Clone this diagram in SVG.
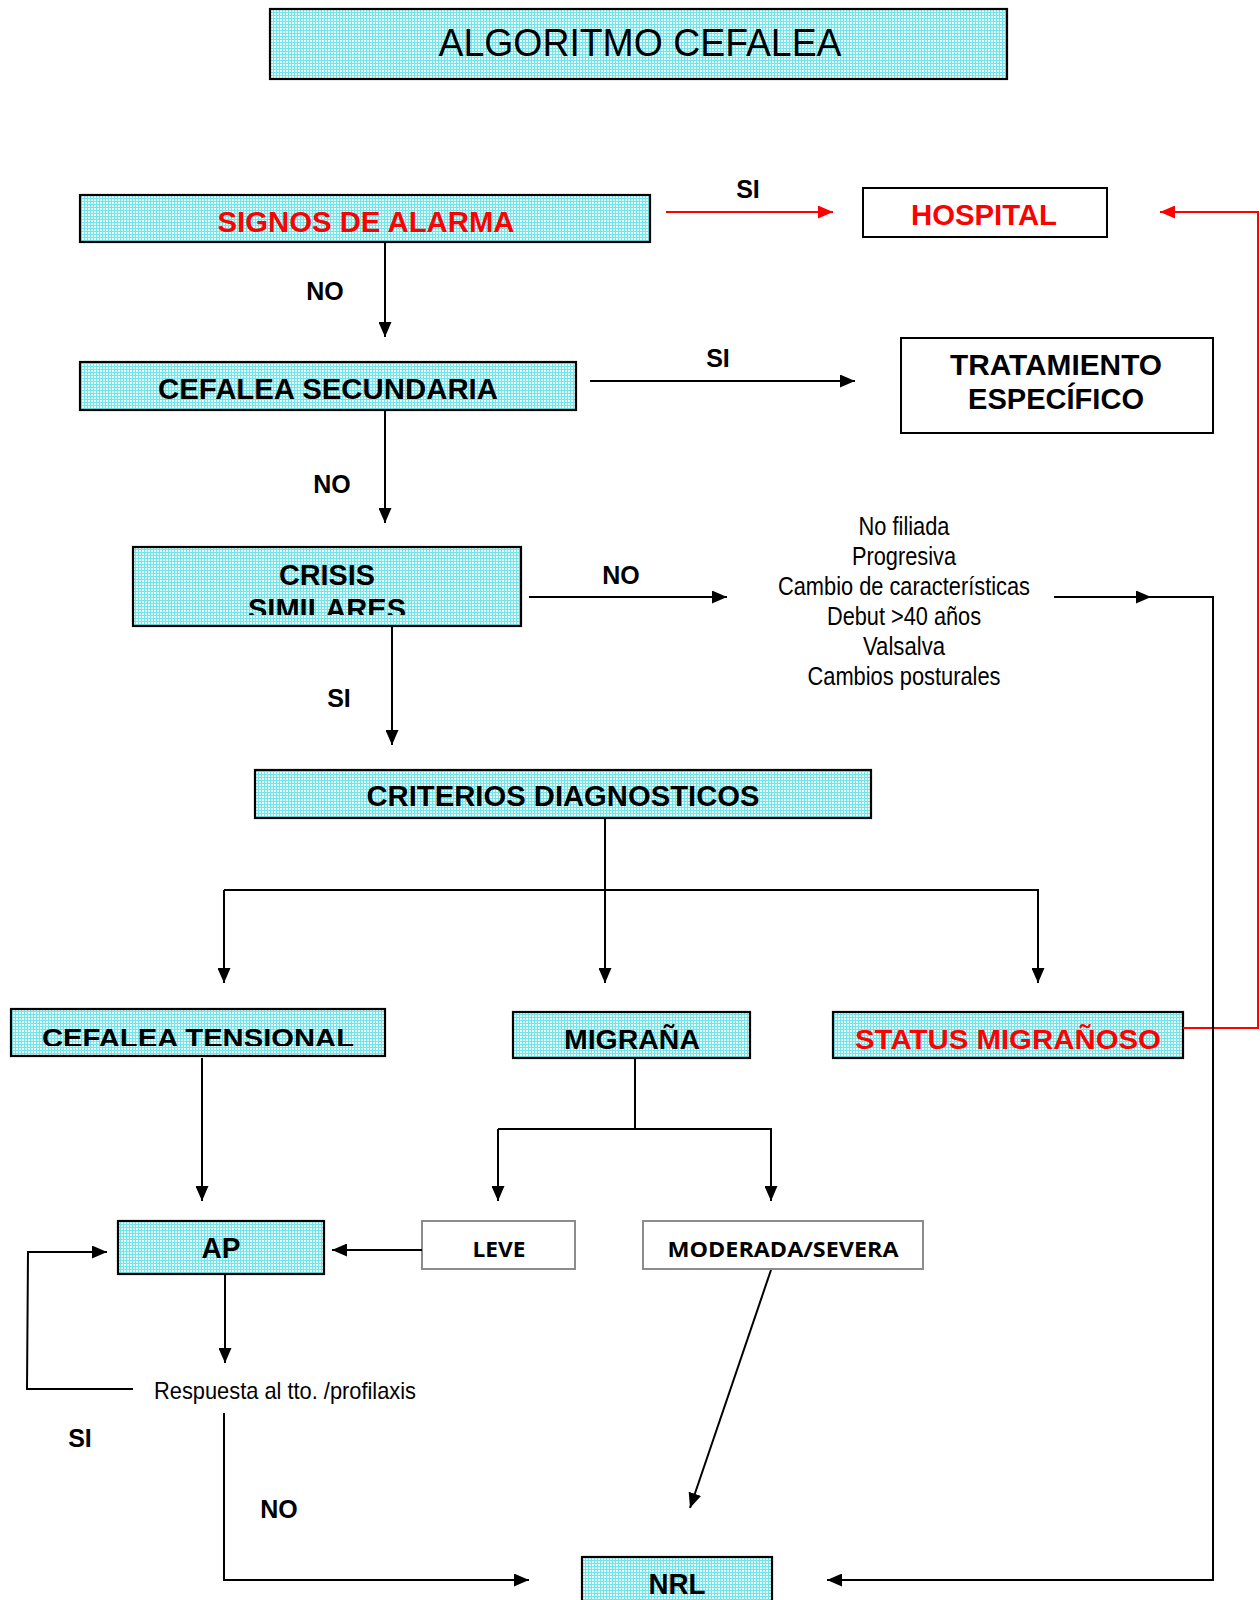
<svg xmlns="http://www.w3.org/2000/svg" width="1260" height="1600" viewBox="0 0 1260 1600">
<style>
.box{fill:url(#grid);stroke:#000;stroke-width:2.2}
.wbox{fill:#fff;stroke:#000;stroke-width:2}
.gbox{fill:#fff;stroke:#8c8c8c;stroke-width:2}
.lbl{font-family:"Liberation Sans",Arial,sans-serif;font-weight:bold;font-size:29px;fill:#000;text-anchor:middle}
.red{fill:#ff0000}
.yn{font-family:"Liberation Sans",Arial,sans-serif;font-weight:bold;font-size:25px;fill:#000;text-anchor:middle}
.txt{font-family:"Liberation Sans",Arial,sans-serif;font-size:25px;fill:#000;text-anchor:middle}
.cal{font-family:"Open Sans","Liberation Sans",sans-serif;font-weight:bold;font-size:21px;fill:#000;text-anchor:middle}
.c{fill:none;stroke:#000;stroke-width:2}
.cr{fill:none;stroke:#ff0000;stroke-width:2}
</style>
<defs>
<pattern id="grid" width="3" height="3" patternUnits="userSpaceOnUse">
<rect width="3" height="3" fill="#e6ffff"/>
<path d="M0,0.5H3M0.5,0V3" stroke="#72e4ea" stroke-width="1"/>
</pattern>
<marker id="ah" viewBox="0 0 15 13" refX="15" refY="6.5" markerWidth="15" markerHeight="13" orient="auto" markerUnits="userSpaceOnUse"><path d="M0,0L15,6.5L0,13z" fill="#000"/></marker>
<marker id="ahr" viewBox="0 0 15 13" refX="15" refY="6.5" markerWidth="15" markerHeight="13" orient="auto" markerUnits="userSpaceOnUse"><path d="M0,0L15,6.5L0,13z" fill="#ff0000"/></marker>
<clipPath id="clipCrisis"><rect x="133" y="547" width="388" height="68"/></clipPath>
<clipPath id="clipTens"><rect x="11" y="1009" width="374" height="37"/></clipPath>
<clipPath id="clipMig"><rect x="513" y="1012" width="237" height="37"/></clipPath>
<clipPath id="clipStatus"><rect x="833" y="1012" width="350" height="37"/></clipPath>
</defs>
<rect width="1260" height="1600" fill="#fff"/>

<g id="title">
<rect class="box" x="270" y="9" width="737" height="70"/>
<text x="640" y="56" font-family="'Liberation Sans',Arial,sans-serif" font-size="38" text-anchor="middle" textLength="403" lengthAdjust="spacingAndGlyphs">ALGORITMO CEFALEA</text>
</g>

<g id="signos">
<rect class="box" x="80" y="195" width="570" height="47"/>
<text class="lbl red" x="366" y="232" textLength="297" lengthAdjust="spacingAndGlyphs">SIGNOS DE ALARMA</text>
</g>

<g id="hospital">
<rect class="wbox" x="863" y="188" width="244" height="49"/>
<text class="lbl red" x="984" y="225" textLength="146" lengthAdjust="spacingAndGlyphs">HOSPITAL</text>
</g>

<g id="secundaria">
<rect class="box" x="80" y="362" width="496" height="48"/>
<text class="lbl" x="328" y="399" textLength="340" lengthAdjust="spacingAndGlyphs">CEFALEA SECUNDARIA</text>
</g>

<g id="tratamiento">
<rect class="wbox" x="901" y="338" width="312" height="95"/>
<text class="lbl" x="1056" y="375" textLength="212" lengthAdjust="spacingAndGlyphs">TRATAMIENTO</text>
<text class="lbl" x="1056" y="409" textLength="176" lengthAdjust="spacingAndGlyphs">ESPECÍFICO</text>
</g>

<g id="crisis">
<rect class="box" x="133" y="547" width="388" height="79"/>
<g clip-path="url(#clipCrisis)">
<text class="lbl" x="327" y="585" textLength="96" lengthAdjust="spacingAndGlyphs">CRISIS</text>
<text class="lbl" x="327" y="619" textLength="158" lengthAdjust="spacingAndGlyphs">SIMILARES</text>
</g>
</g>

<g id="lista">
<text class="txt" x="904" y="535" textLength="91" lengthAdjust="spacingAndGlyphs">No filiada</text>
<text class="txt" x="904" y="565" textLength="104" lengthAdjust="spacingAndGlyphs">Progresiva</text>
<text class="txt" x="904" y="595" textLength="252" lengthAdjust="spacingAndGlyphs">Cambio de características</text>
<text class="txt" x="904" y="625" textLength="154" lengthAdjust="spacingAndGlyphs">Debut &gt;40 años</text>
<text class="txt" x="904" y="655" textLength="82" lengthAdjust="spacingAndGlyphs">Valsalva</text>
<text class="txt" x="904" y="685" textLength="193" lengthAdjust="spacingAndGlyphs">Cambios posturales</text>
</g>

<g id="criterios">
<rect class="box" x="255" y="770" width="616" height="48"/>
<text class="lbl" x="563" y="806" textLength="393" lengthAdjust="spacingAndGlyphs">CRITERIOS DIAGNOSTICOS</text>
</g>

<g id="tensional">
<rect class="box" x="11" y="1009" width="374" height="47"/>
<g clip-path="url(#clipTens)">
<text class="lbl" x="198" y="1047" font-size="26" textLength="312" lengthAdjust="spacingAndGlyphs" style="font-size:26px">CEFALEA TENSIONAL</text>
</g>
</g>

<g id="migrana">
<rect class="box" x="513" y="1012" width="237" height="46"/>
<g clip-path="url(#clipMig)">
<text class="lbl" x="632" y="1049" textLength="136" lengthAdjust="spacingAndGlyphs" style="font-size:27px">MIGRAÑA</text>
</g>
</g>

<g id="status">
<rect class="box" x="833" y="1012" width="350" height="46"/>
<g clip-path="url(#clipStatus)">
<text class="lbl red" x="1008" y="1049" textLength="306" lengthAdjust="spacingAndGlyphs" style="font-size:27px">STATUS MIGRAÑOSO</text>
</g>
</g>

<g id="ap">
<rect class="box" x="118" y="1221" width="206" height="53"/>
<text class="lbl" x="221" y="1258" textLength="39" lengthAdjust="spacingAndGlyphs">AP</text>
</g>

<g id="leve">
<rect class="gbox" x="422" y="1221" width="153" height="48"/>
<text class="cal" x="499" y="1257" textLength="53" lengthAdjust="spacingAndGlyphs">LEVE</text>
</g>

<g id="moderada">
<rect class="gbox" x="643" y="1221" width="280" height="48"/>
<text class="cal" x="783" y="1257" textLength="231" lengthAdjust="spacingAndGlyphs">MODERADA/SEVERA</text>
</g>

<g id="respuesta">
<text class="txt" x="154" y="1399" style="text-anchor:start;font-size:24px" textLength="262" lengthAdjust="spacingAndGlyphs">Respuesta al tto. /profilaxis</text>
</g>

<g id="nrl">
<rect class="box" x="582" y="1557" width="190" height="50"/>
<text class="lbl" x="677" y="1594" textLength="57" lengthAdjust="spacingAndGlyphs">NRL</text>
</g>

<g id="connectors">
<line class="cr" x1="666" y1="212" x2="833" y2="212" marker-end="url(#ahr)"/>
<polyline class="cr" points="1183,1028 1258,1028 1258,212 1160,212" marker-end="url(#ahr)"/>
<line class="c" x1="385" y1="242" x2="385" y2="337" marker-end="url(#ah)"/>
<line class="c" x1="590" y1="381" x2="855" y2="381" marker-end="url(#ah)"/>
<line class="c" x1="385" y1="410" x2="385" y2="523" marker-end="url(#ah)"/>
<line class="c" x1="529" y1="597" x2="727" y2="597" marker-end="url(#ah)"/>
<line class="c" x1="1054" y1="597" x2="1151" y2="597" marker-end="url(#ah)"/>
<polyline class="c" points="1150,597 1213,597 1213,1580 827,1580" marker-end="url(#ah)"/>
<line class="c" x1="392" y1="626" x2="392" y2="745" marker-end="url(#ah)"/>
<line class="c" x1="605" y1="818" x2="605" y2="983" marker-end="url(#ah)"/>
<polyline class="c" points="224,890 1038,890 1038,983" marker-end="url(#ah)"/>
<line class="c" x1="224" y1="890" x2="224" y2="983" marker-end="url(#ah)"/>
<line class="c" x1="202" y1="1058" x2="202" y2="1201" marker-end="url(#ah)"/>
<line class="c" x1="635" y1="1058" x2="635" y2="1129"/>
<polyline class="c" points="498,1129 771,1129 771,1201" marker-end="url(#ah)"/>
<line class="c" x1="498" y1="1129" x2="498" y2="1201" marker-end="url(#ah)"/>
<line class="c" x1="422" y1="1250" x2="332" y2="1250" marker-end="url(#ah)"/>
<line class="c" x1="225" y1="1274" x2="225" y2="1363" marker-end="url(#ah)"/>
<polyline class="c" points="133,1389 27,1389 28,1252 107,1252" marker-end="url(#ah)"/>
<polyline class="c" points="224,1413 224,1580 529,1580" marker-end="url(#ah)"/>
<line class="c" x1="771" y1="1270" x2="690" y2="1508" marker-end="url(#ah)"/>
<text class="yn" x="748" y="198">SI</text>
<text class="yn" x="325" y="300">NO</text>
<text class="yn" x="718" y="367">SI</text>
<text class="yn" x="332" y="493">NO</text>
<text class="yn" x="621" y="584">NO</text>
<text class="yn" x="339" y="707">SI</text>
<text class="yn" x="80" y="1447">SI</text>
<text class="yn" x="279" y="1518">NO</text>
</g>
</svg>
